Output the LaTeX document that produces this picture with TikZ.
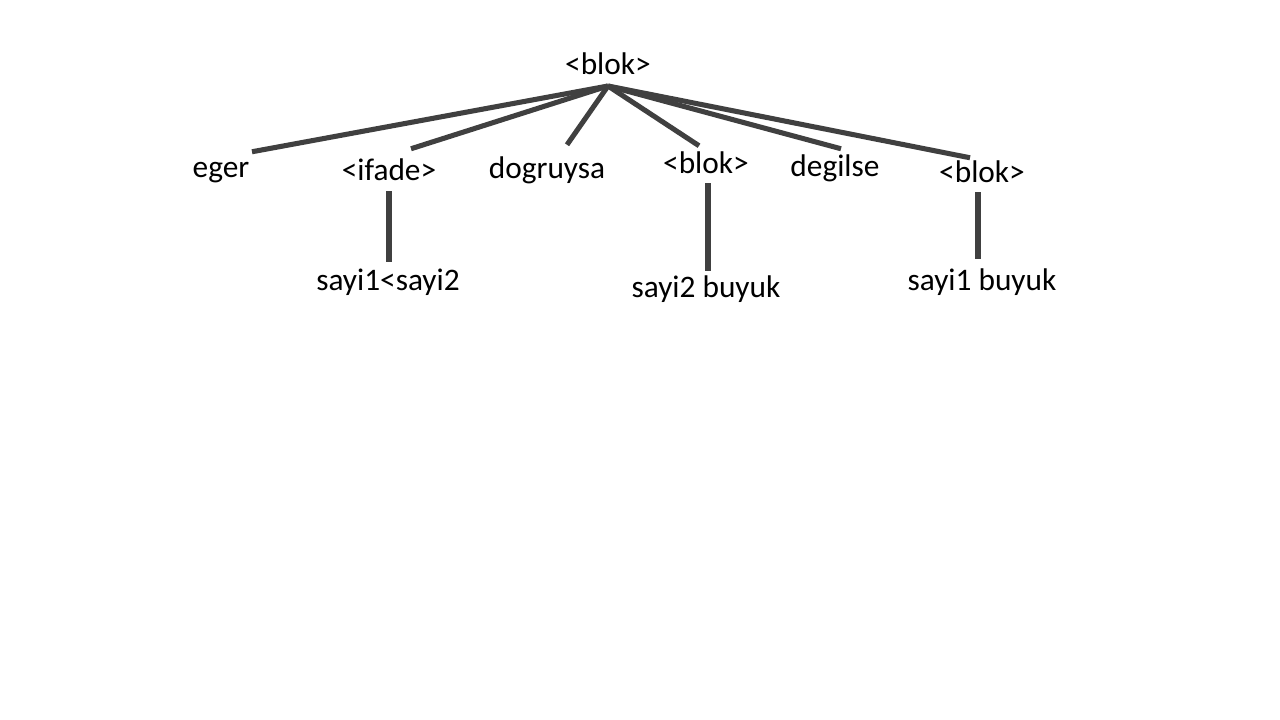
\documentclass[tikz,border=0pt]{standalone}
\usepackage{fontspec}
\setmainfont{Carlito}
\usepackage{xcolor}
\usepackage{tikz}
\usetikzlibrary{calc}
\definecolor{edgegray}{HTML}{404040}

\begin{document}
\begin{tikzpicture}[x=0.75pt, y=-0.75pt,
  word/.style={font=\fontsize{23.5}{28}\selectfont, inner sep=0pt, anchor=base,
    text height=17.6pt, text depth=5.9pt},
  edge/.style={edgegray, line width=3.8pt}]
  \useasboundingbox (0,0) rectangle (1280,720);
  % parse tree of the if-statement
  \node[word] (root) at (608,75) {<blok>};
  \coordinate (apex) at (608,86);
  \node[word] (eger)  at (221,178) {eger};
  \node[word] (ifade) at (389,181) {<ifade>};
  \node[word] (dogru) at (547,179) {dogruysa};
  \node[word] (blokA) at (706,174) {<blok>};
  \node[word] (degil) at (835,177) {degilse};
  \node[word] (blokB) at (982,183) {<blok>};
  \node[word] (cmp)   at (388,290) {sayi1<sayi2};
  \node[word] (sayiA) at (706,297) {sayi2 buyuk};
  \node[word] (sayiB) at (982,290) {sayi1 buyuk};
  % branches from the root
  \draw[edge] (apex) -- ($(eger.north)+(31,-2.5)$);
  \draw[edge] (apex) -- ($(ifade.north)+(22,-8.5)$);
  \draw[edge] (apex) -- ($(dogru.north)+(20,-10.5)$);
  \draw[edge] (apex) -- ($(blokA.north)+(-7,-4.5)$);
  \draw[edge] (apex) -- ($(degil.north)+(6,-4.5)$);
  \draw[edge] (apex) -- ($(blokB.north)+(-12,-1.5)$);
  % leaves
  \draw[edge, shorten <=1.5pt, shorten >=3.4pt] (ifade.south) -- (ifade.south |- cmp.north);
  \draw[edge, shorten <=1pt, shorten >=2pt] ($(blokA.south)+(2,0)$) -- ($(blokA.south |- sayiA.north)+(2,0)$);
  \draw[edge, shorten <=1pt, shorten >=5.6pt] ($(blokB.south)+(-4,0)$) -- ($(blokB.south |- sayiB.north)+(-4,0)$);
\end{tikzpicture}
\end{document}
